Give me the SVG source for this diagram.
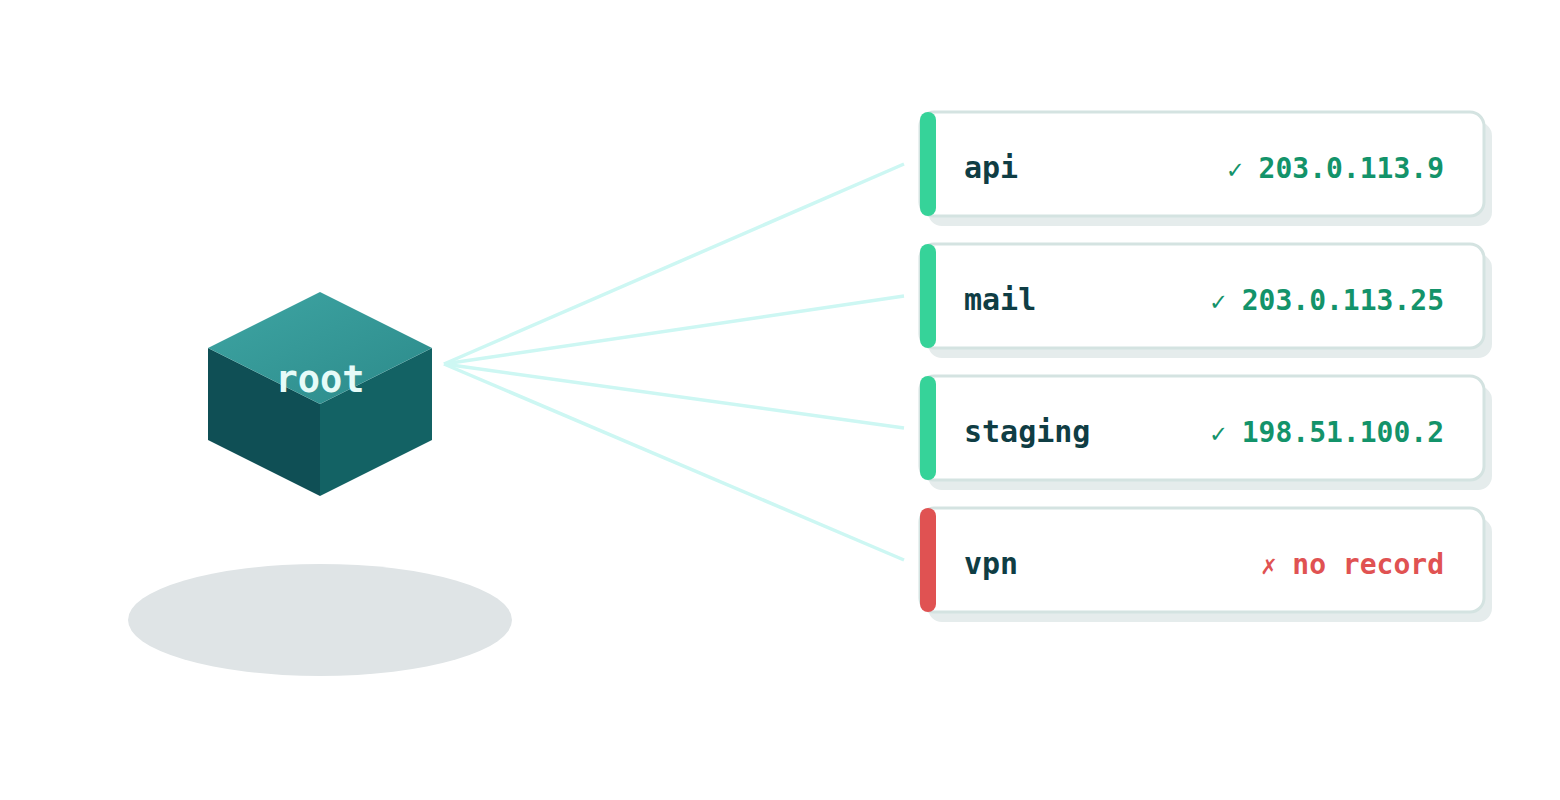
<svg xmlns="http://www.w3.org/2000/svg" width="1560" height="800" viewBox="0 0 1560 800">
<style>
.card{fill:#fff;stroke:#d4e3e1;stroke-width:3}
.sh{fill:#e5ecec}
.lbl{font-family:"DejaVu Sans Mono",monospace;font-weight:bold;font-size:30px;fill:#0f3d44}
.val{font-family:"DejaVu Sans Mono",monospace;font-weight:bold;font-size:28px;text-anchor:end}
.ok{fill:#13936a}.bad{fill:#e05252}
.mk{font-weight:normal;font-size:26px}
.con{stroke:#cdf7f3;stroke-width:3.5;fill:none}
</style>
<defs>
<linearGradient id="top" x1="0" y1="0" x2="1" y2="1"><stop offset="0" stop-color="#3ea5a3"/><stop offset="1" stop-color="#2c8a8a"/></linearGradient>
</defs>
<rect width="1560" height="800" fill="#fff"/>
<ellipse cx="320" cy="620" rx="192" ry="56" fill="#dfe4e6"/>
<g id="connectors">
<line class="con" x1="444" y1="364" x2="904" y2="164"/>
<line class="con" x1="444" y1="364" x2="904" y2="296"/>
<line class="con" x1="444" y1="364" x2="904" y2="428"/>
<line class="con" x1="444" y1="364" x2="904" y2="560"/>
</g>
<g id="root">
<polygon points="208,348 320,404 320,496 208,440" fill="#0f4f55"/>
<polygon points="432,348 320,404 320,496 432,440" fill="#136264"/>
<polygon points="320,292 432,348 320,404 208,348" fill="url(#top)"/>
<text x="320" y="392" text-anchor="middle" font-family="DejaVu Sans Mono,monospace" font-weight="bold" font-size="37" fill="#e6fbf8">root</text>
</g>
<g id="api">
<rect class="sh" x="928" y="122" width="564" height="104" rx="14"/>
<rect class="card" x="920" y="112" width="564" height="104" rx="14"/>
<rect x="920" y="112" width="16" height="104" rx="8" fill="#36d399"/>
<text class="lbl" x="964" y="178">api</text>
<text class="val ok" x="1444" y="178"><tspan class="mk">✓ </tspan>203.0.113.9</text>
</g>
<g id="mail">
<rect class="sh" x="928" y="254" width="564" height="104" rx="14"/>
<rect class="card" x="920" y="244" width="564" height="104" rx="14"/>
<rect x="920" y="244" width="16" height="104" rx="8" fill="#36d399"/>
<text class="lbl" x="964" y="310">mail</text>
<text class="val ok" x="1444" y="310"><tspan class="mk">✓ </tspan>203.0.113.25</text>
</g>
<g id="staging">
<rect class="sh" x="928" y="386" width="564" height="104" rx="14"/>
<rect class="card" x="920" y="376" width="564" height="104" rx="14"/>
<rect x="920" y="376" width="16" height="104" rx="8" fill="#36d399"/>
<text class="lbl" x="964" y="442">staging</text>
<text class="val ok" x="1444" y="442"><tspan class="mk">✓ </tspan>198.51.100.2</text>
</g>
<g id="vpn">
<rect class="sh" x="928" y="518" width="564" height="104" rx="14"/>
<rect class="card" x="920" y="508" width="564" height="104" rx="14"/>
<rect x="920" y="508" width="16" height="104" rx="8" fill="#e05252"/>
<text class="lbl" x="964" y="574">vpn</text>
<text class="val bad" x="1444" y="574"><tspan class="mk">✗ </tspan>no record</text>
</g>
</svg>
